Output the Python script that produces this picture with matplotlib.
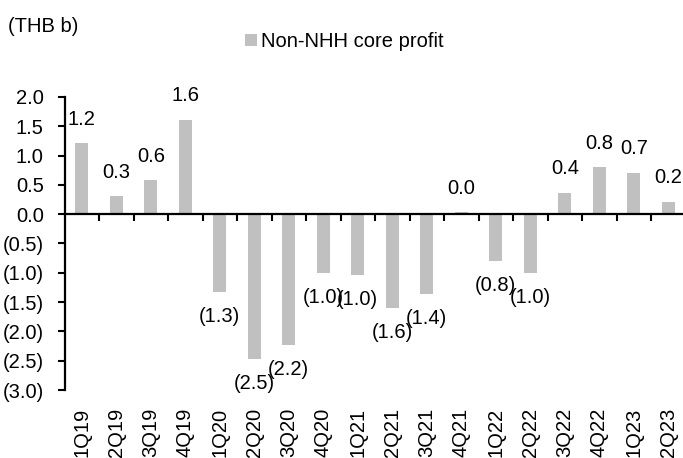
import matplotlib
matplotlib.use("Agg")
import matplotlib.pyplot as plt
import numpy as np

categories = ["1Q19", "2Q19", "3Q19", "4Q19", "1Q20", "2Q20", "3Q20", "4Q20",
              "1Q21", "2Q21", "3Q21", "4Q21", "1Q22", "2Q22", "3Q22", "4Q22",
              "1Q23", "2Q23"]
values = [1.21, 0.31, 0.58, 1.61, -1.33, -2.47, -2.24, -1.01,
          -1.04, -1.60, -1.36, 0.03, -0.80, -1.01, 0.37, 0.80,
          0.71, 0.21]
series_name = "Non-NHH core profit"
unit_label = "(THB b)"
yticks = [2.0, 1.5, 1.0, 0.5, 0.0, -0.5, -1.0, -1.5, -2.0, -2.5, -3.0]


def fmt(v):
    s = f"{abs(v):.1f}"
    return f"({s})" if v < 0 else s


plt.rcParams["font.family"] = ["Liberation Sans", "DejaVu Sans"]
FS = 14.5
W, H = 683, 458
fig = plt.figure(figsize=(W / 100, H / 100), dpi=100)
ax = fig.add_axes([64.5 / W, 1 - 390 / H, 621 / W, (390 - 97) / H])

x = np.arange(len(categories))
bars = ax.bar(x, values, width=0.38, color="#C0C0C0", label=series_name, zorder=2)

ax.set_xlim(-0.5, len(categories) - 0.5)
ax.set_ylim(-3.0, 2.0)
ax.set_yticks(yticks)
ax.set_yticklabels([fmt(v) for v in yticks], fontsize=FS)
ax.tick_params(axis="y", direction="out", length=5, width=1.5, pad=10)

for s in ["top", "right"]:
    ax.spines[s].set_visible(False)
ax.spines["left"].set_linewidth(1.6)
ax.spines["bottom"].set_position(("data", 0))
ax.spines["bottom"].set_linewidth(1.6)
ax.spines["bottom"].set_zorder(3)

# boundary tick marks on the zero line
ax.set_xticks(x)
ax.set_xticklabels([])
ax.tick_params(axis="x", which="major", length=0)
ax.set_xticks(np.arange(0.5, len(categories) - 0.5, 1.0), minor=True)
ax.tick_params(axis="x", which="minor", direction="out", length=5, width=1.5)

# category labels at bottom
sec = ax.secondary_xaxis(0)
sec.set_xticks(x)
sec.set_xticklabels(categories, rotation=90, fontsize=FS)
sec.tick_params(length=0, pad=13)
sec.spines["bottom"].set_visible(False)

for xi, v in zip(x, values):
    off = 17.3 if v >= 0 else -17.5
    ax.annotate(fmt(v), (xi, v), xytext=(0, off), textcoords="offset points",
                ha="center", va="center", fontsize=FS)

fig.text(8 / W, 1 - 26 / H, unit_label, fontsize=FS, va="center", ha="left")

fig.legend(handles=[bars], labels=[series_name], loc="center left",
           bbox_to_anchor=(245 / W, 1 - 41.5 / H), frameon=False, fontsize=FS,
           handlelength=0.58, handleheight=0.55, handletextpad=0.2,
           borderpad=0, borderaxespad=0)

fig.savefig("out.png", dpi=100)
